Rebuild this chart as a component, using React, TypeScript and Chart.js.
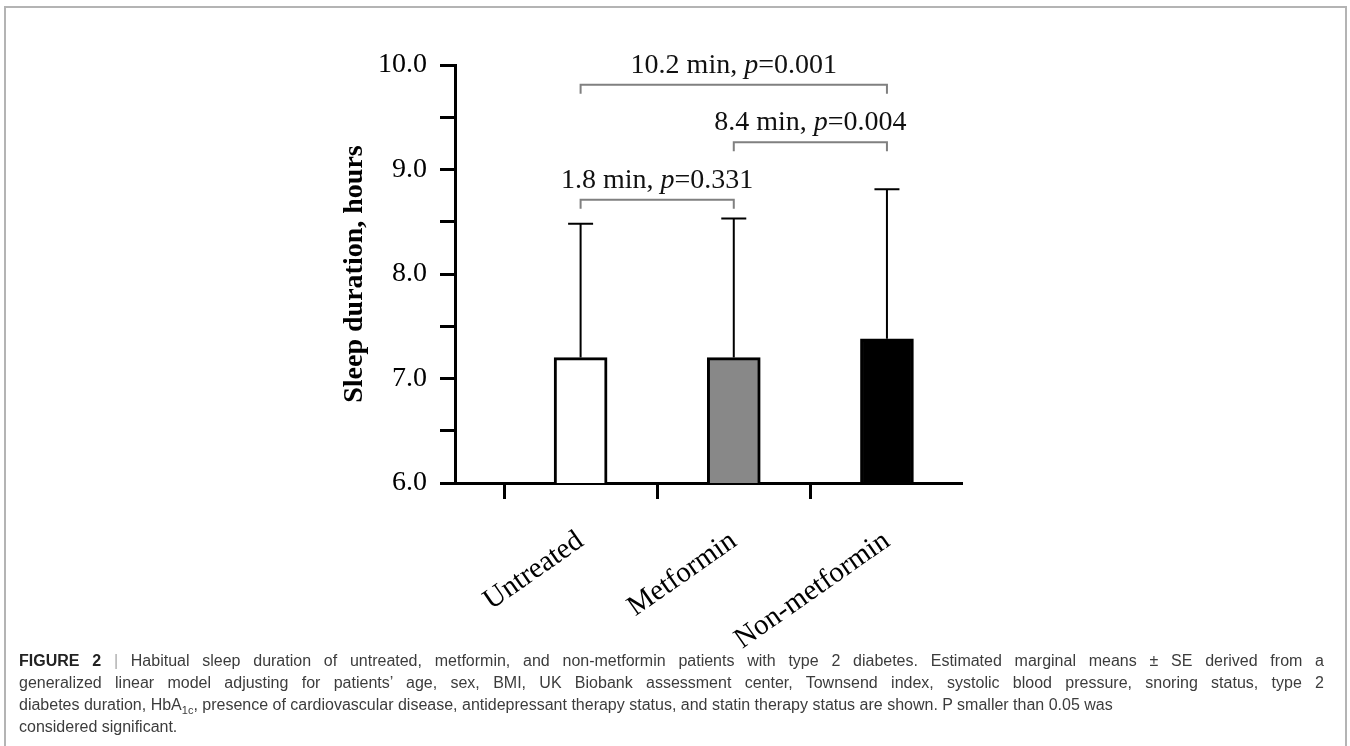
import React, { useEffect, useRef } from "react";
import { Chart, registerables } from "chart.js";

Chart.register(...registerables);

// ---- Data ----
const categories = ["Untreated", "Metformin", "Non-metformin"];
const means = [7.2, 7.2, 7.38];
const upperSE = [8.48, 8.53, 8.81];
const barColors = ["#ffffff", "#888888", "#000000"];

// pairwise comparisons (annotation brackets)
const compFrom = [0, 1, 0];
const compTo = [2, 2, 1];
const compLevel = [9.81, 9.26, 8.71];
const compDiff = ["10.2 min, ", "8.4 min, ", "1.8 min, "];
const compP = ["0.001", "0.004", "0.331"];

const yTitle = "Sleep duration, hours";
const SERIF = '"Liberation Serif", "Times New Roman", serif';

const CANVAS_H = 700;

const annotationPlugin = {
  id: "sigAnnotations",
  afterDatasetsDraw(chart: any) {
    const ctx = chart.ctx;
    const x = chart.scales.x;
    const y = chart.scales.y;
    ctx.save();
    // error bars (upper only)
    ctx.strokeStyle = "#000";
    ctx.lineWidth = 2;
    for (let i = 0; i < categories.length; i++) {
      const px = x.getPixelForValue(i + 1);
      const y0 = y.getPixelForValue(means[i]);
      const y1 = y.getPixelForValue(upperSE[i]);
      ctx.beginPath();
      ctx.moveTo(px, y0);
      ctx.lineTo(px, y1);
      ctx.moveTo(px - 12.5, y1);
      ctx.lineTo(px + 12.5, y1);
      ctx.stroke();
    }
    // brackets
    for (let k = 0; k < compFrom.length; k++) {
      const xa = x.getPixelForValue(compFrom[k] + 1);
      const xb = x.getPixelForValue(compTo[k] + 1);
      const yy = y.getPixelForValue(compLevel[k]);
      ctx.strokeStyle = "#808080";
      ctx.lineWidth = 2;
      ctx.beginPath();
      ctx.moveTo(xa, yy + 9);
      ctx.lineTo(xa, yy);
      ctx.lineTo(xb, yy);
      ctx.lineTo(xb, yy + 9);
      ctx.stroke();
      // label
      const normal = "28px " + SERIF;
      const italic = "italic 28px " + SERIF;
      const p1 = compDiff[k];
      const p2 = "p";
      const p3 = "=" + compP[k];
      ctx.font = normal;
      const w1 = ctx.measureText(p1).width;
      const w3 = ctx.measureText(p3).width;
      ctx.font = italic;
      const w2 = ctx.measureText(p2).width;
      const total = w1 + w2 + w3;
      let sx = (xa + xb) / 2 - total / 2;
      const by = yy - 12;
      ctx.fillStyle = "#111";
      ctx.textBaseline = "alphabetic";
      ctx.textAlign = "left";
      ctx.font = normal;
      ctx.fillText(p1, sx, by);
      sx += w1;
      ctx.font = italic;
      ctx.fillText(p2, sx, by);
      sx += w2;
      ctx.font = normal;
      ctx.fillText(p3, sx, by);
    }
    ctx.restore();
  },
};

function BarChart() {
  const ref = useRef<HTMLCanvasElement | null>(null);
  useEffect(() => {
    if (!ref.current) return;
    const chart = new Chart(ref.current, {
      type: "bar",
      data: {
        datasets: [
          {
            data: categories.map((_, i) => ({ x: i + 1, y: means[i] })) as any,
            backgroundColor: barColors,
            borderColor: "#000",
            borderWidth: 3,
            borderSkipped: false,
            barThickness: 53,
          },
        ],
      },
      options: {
        animation: false,
        responsive: false,
        devicePixelRatio: 1,
        layout: { padding: { left: 330, top: 65, right: 388, bottom: 0 } },
        plugins: { legend: { display: false }, tooltip: { enabled: false } },
        scales: {
          x: {
            type: "linear",
            min: 0.18,
            max: 3.49,
            offset: false,
            afterBuildTicks: (s: any) => {
              s.ticks = categories.map((_, i) => ({ value: i + 1 }));
            },
            afterFit: (s: any) => {
              s.height = CANVAS_H - 483;
            },
            grid: {
              drawOnChartArea: false,
              drawTicks: true,
              tickLength: 16,
              tickWidth: 3,
              tickColor: "#000",
            },
            border: { display: true, color: "#000", width: 3 },
            ticks: {
              callback: (v: any) => categories[Math.round(v) - 1] ?? "",
              minRotation: 35,
              maxRotation: 35,
              autoSkip: false,
              padding: 25,
              color: "#000",
              font: { family: SERIF, size: 29 },
            },
          },
          y: {
            type: "linear",
            min: 6,
            max: 10,
            afterFit: (s: any) => {
              s.width = 125;
            },
            title: {
              display: true,
              text: yTitle,
              color: "#000",
              font: { family: SERIF, size: 28, weight: "bold" },
              padding: { top: 8, bottom: 0 },
            },
            grid: {
              drawOnChartArea: false,
              drawTicks: true,
              tickLength: 15,
              tickWidth: 3,
              tickColor: "#000",
            },
            border: { display: true, color: "#000", width: 3 },
            ticks: {
              stepSize: 0.5,
              autoSkip: false,
              padding: 13,
              color: "#000",
              font: { family: SERIF, size: 28 },
              callback: (v: any) =>
                Math.abs(v - Math.round(v)) < 1e-6 ? Number(v).toFixed(1) : "",
            },
          },
        },
      } as any,
      plugins: [annotationPlugin],
    });
    return () => chart.destroy();
  }, []);
  return (
    <canvas
      ref={ref}
      width={1350}
      height={CANVAS_H}
      style={{ position: "absolute", left: 0, top: 0, width: 1350, height: CANVAS_H }}
    />
  );
}

const capLine: React.CSSProperties = {
  display: "block",
  whiteSpace: "nowrap",
  height: 22,
  lineHeight: "22px",
};

export default function App() {
  return (
    <div
      style={{
        position: "absolute",
        left: 0,
        top: 0,
        width: 1350,
        height: 746,
        overflow: "hidden",
        background: "#fff",
      }}
    >
      <div
        style={{
          position: "absolute",
          left: 4,
          top: 6,
          width: 1339,
          height: 800,
          border: "2px solid #b4b4b4",
        }}
      />
      <BarChart />
      <div
        style={{
          position: "absolute",
          left: 19,
          top: 650,
          width: 1305,
          fontFamily: '"Liberation Sans", Arial, sans-serif',
          fontSize: 16,
          color: "#3c3c3c",
        }}
      >
        <span style={{ ...capLine, textAlign: "justify", textAlignLast: "justify" } as any}>
          <b style={{ color: "#222" }}>FIGURE 2</b>{" "}
          <span style={{ color: "#aaa" }}>|</span> Habitual sleep duration of untreated,
          metformin, and non-metformin patients with type 2 diabetes. Estimated marginal means ±
          SE derived from a
        </span>
        <span style={{ ...capLine, textAlign: "justify", textAlignLast: "justify" } as any}>
          generalized linear model adjusting for patients’ age, sex, BMI, UK Biobank assessment
          center, Townsend index, systolic blood pressure, snoring status, type 2
        </span>
        <span style={capLine}>
          diabetes duration, HbA<sub style={{ fontSize: 11, lineHeight: 0 }}>1c</sub>, presence of
          cardiovascular disease, antidepressant therapy status, and statin therapy status are
          shown. P smaller than 0.05 was
        </span>
        <span style={capLine}>considered significant.</span>
      </div>
    </div>
  );
}
